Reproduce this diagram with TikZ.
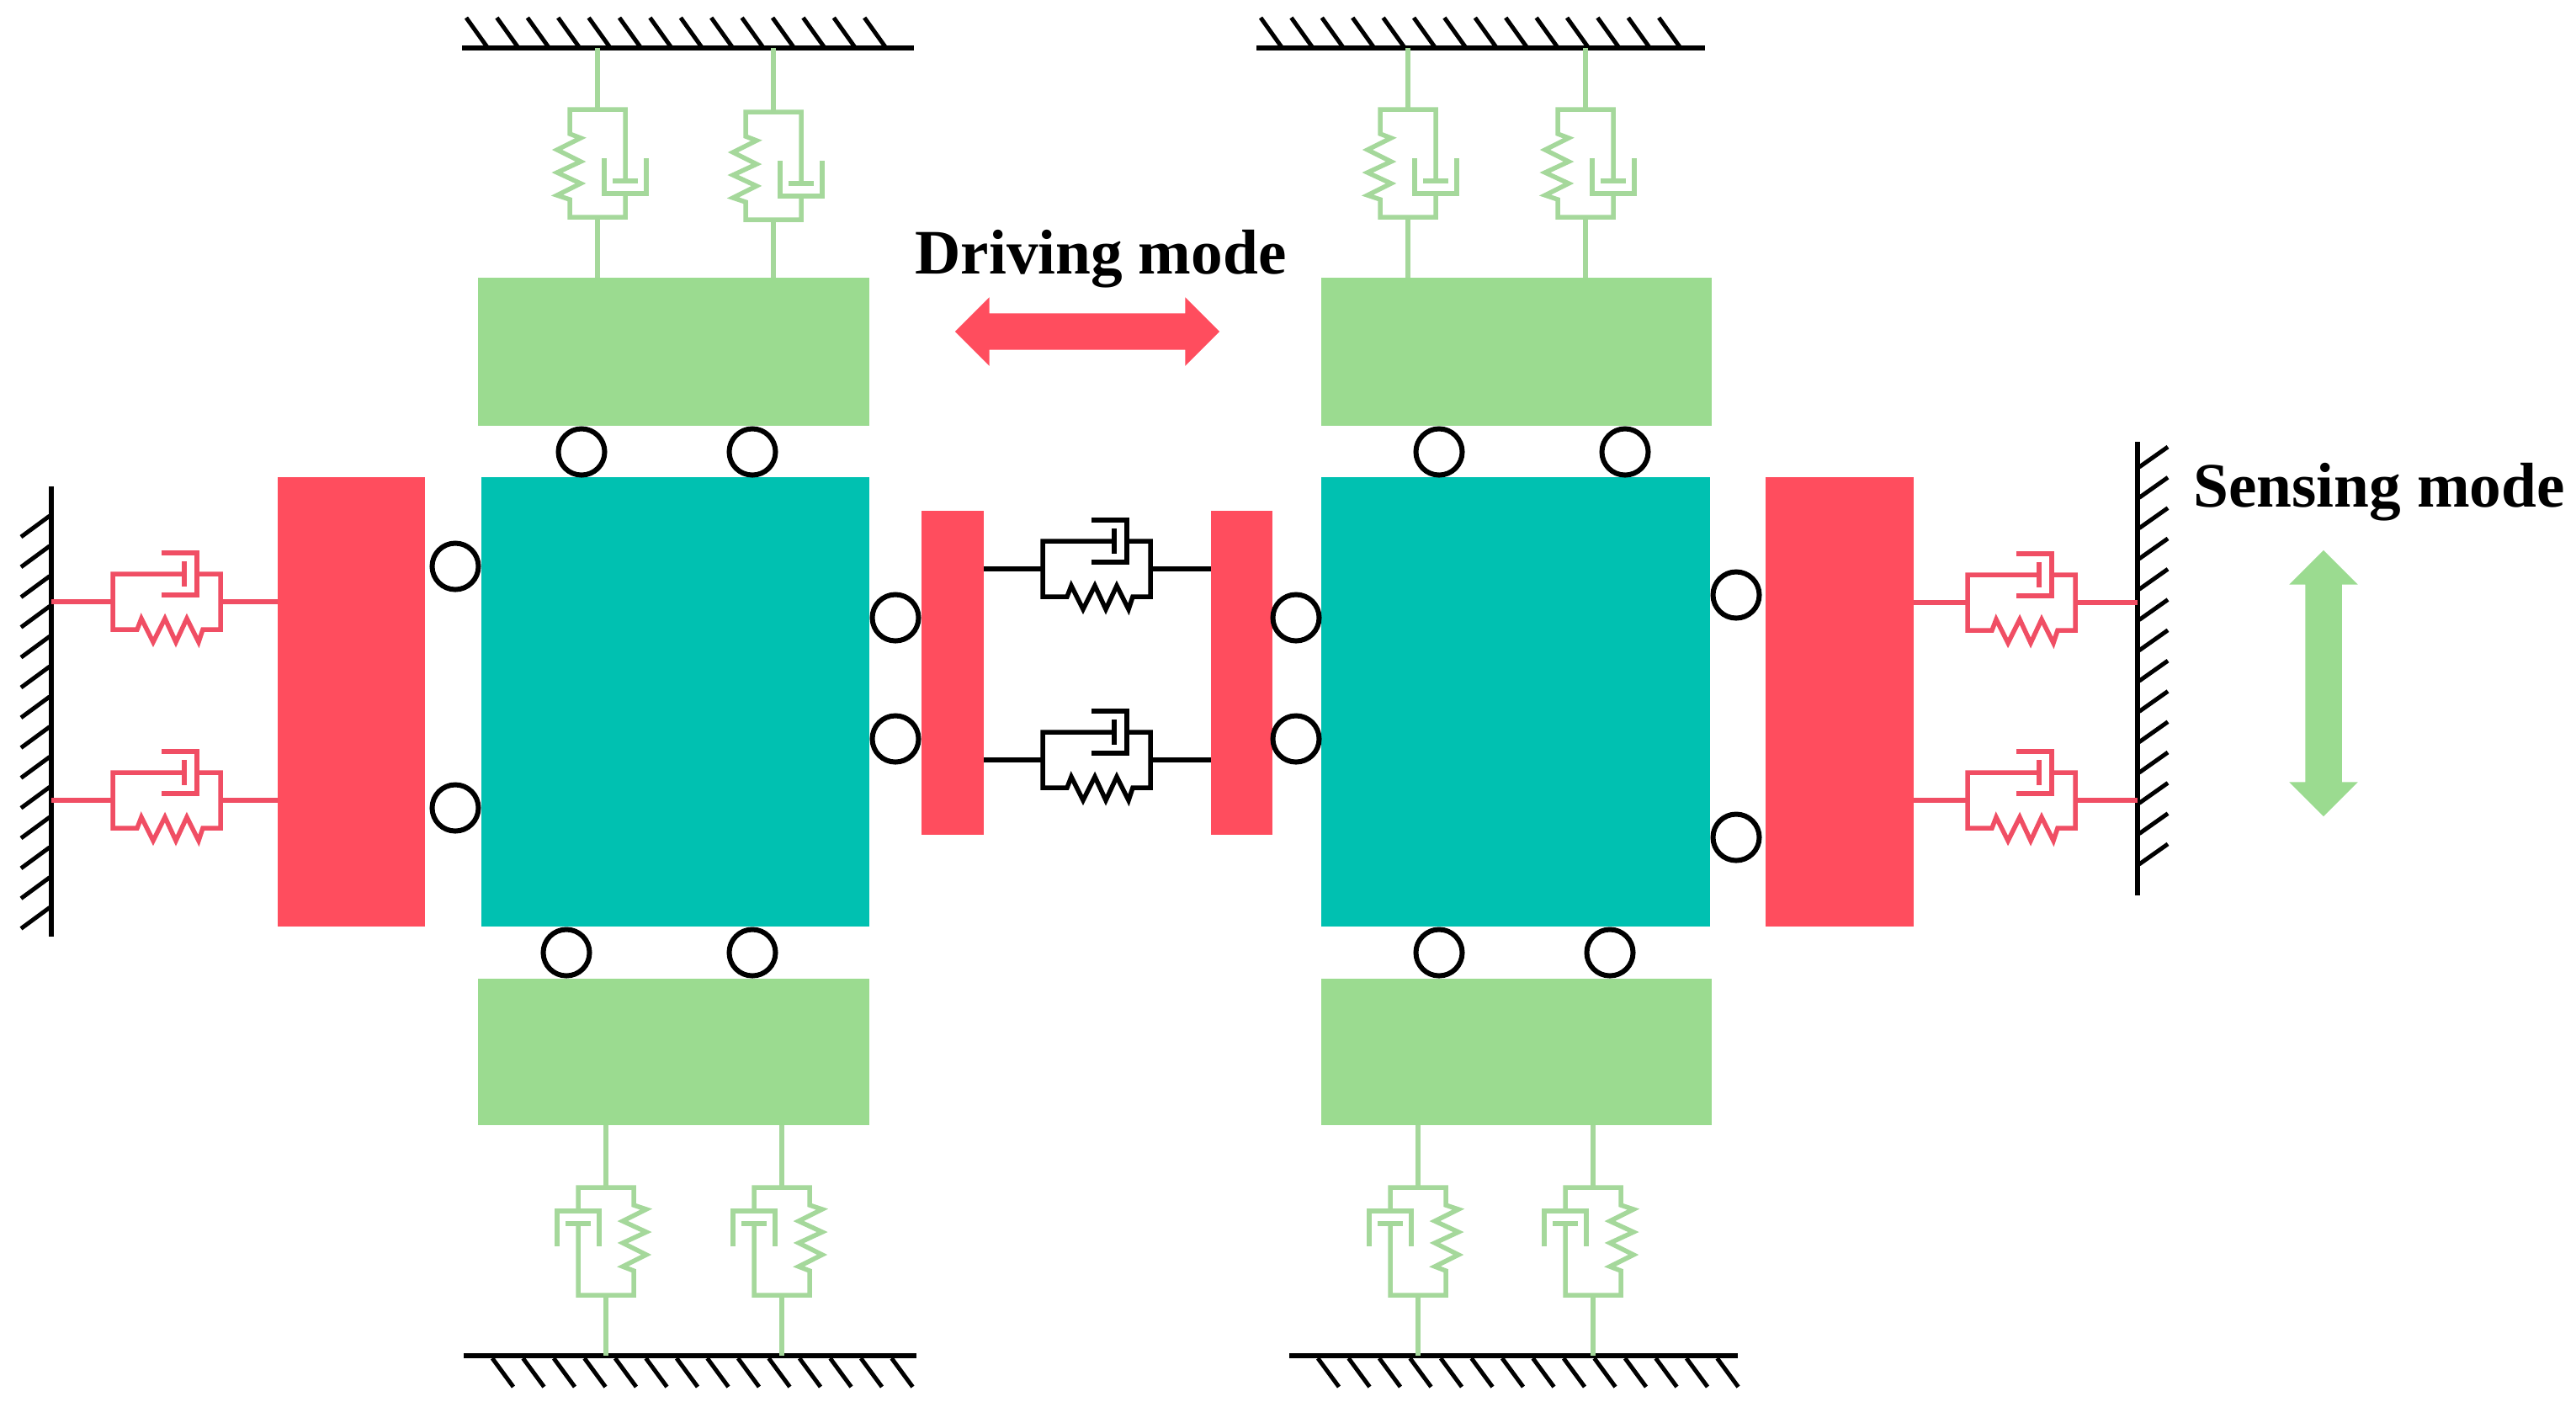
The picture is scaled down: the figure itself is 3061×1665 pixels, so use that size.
\documentclass[tikz,border=0pt]{standalone}
\usepackage{fontspec}
\setmainfont{Liberation Serif}
\usetikzlibrary{shapes.arrows}
\definecolor{blockred}{RGB}{255,77,94}
\definecolor{blockteal}{RGB}{0,193,177}
\definecolor{blockgreen}{RGB}{155,219,144}
\definecolor{wiregreen}{RGB}{165,216,155}
\definecolor{wirered}{RGB}{240,78,100}

\begin{document}
\begin{tikzpicture}[
		x=0.01cm, y=-0.01cm,
		blockbox/.style={rectangle, inner sep=0pt, outer sep=0pt},
		roller/.style={circle, draw=black, fill=white, line width=0.06cm, minimum size=0.55cm, inner sep=0pt},
		modelbl/.style={font=\bfseries\fontsize{21.4}{24}\selectfont},
		wallline/.style={line width=0.06cm, black},
		hatch/.style={line width=0.05cm, black},
		wire/.style={line width=0.055cm},
		modearrow/.style={shape=double arrow, inner xsep=0pt, inner ysep=0.21cm, outer sep=0pt, minimum width=0.8cm, double arrow head extend=0.19cm, double arrow tip angle=90},
		kelvin/.pic={
			\coordinate (-in) at (0,0);
			\coordinate (-out) at (128,0);
			\draw[wire] (85,-33) -- (0,-33) -- (0,33) -- (29,33) -- (34,20) -- (48,48) -- (62,20) -- (75,48) -- (88,20) -- (102,48) -- (107,33) -- (128,33) -- (128,-33) -- (100,-33);
			\draw[wire] (85,-48) -- (85,-18);
			\draw[wire] (58,-58) -- (100,-58) -- (100,-8) -- (58,-8);
		}
		]
		\useasboundingbox (0,0) rectangle (3061,1665);
		
		% 1. Ground walls
		\draw[wallline] (549,57) -- (1086,57) coordinate (wallTL);
		\draw[wallline] (1493,57) -- (2026,57) coordinate (wallTR);
		\draw[wallline] (551,1611) -- (1089,1611) coordinate (wallBL);
		\draw[wallline] (1532,1611) -- (2065,1611) coordinate (wallBR);
		\draw[wallline] (61,578) -- (61,1113) coordinate (wallL);
		\draw[wallline] (2540,525) -- (2540,1064) coordinate (wallR);
		\foreach \k in {0,...,13} {
			\draw[hatch] (554+\k*36.4,21) -- ++(25,35);
			\draw[hatch] (1498+\k*36.4,21) -- ++(25,35);
			\draw[hatch] (585+\k*36.5,1614) -- ++(25,34);
			\draw[hatch] (1566+\k*36.5,1614) -- ++(25,34);
			\draw[hatch] (59,613+\k*35.8) -- ++(-34,25);
			\draw[hatch] (2542,555+\k*36.3) -- ++(34,-24);
		}
		
		% 2. Masses
		\node[blockbox, fill=blockgreen, minimum width=4.65cm, minimum height=1.76cm] (greenTL) at (800.5,418) {};
		\node[blockbox, fill=blockgreen, minimum width=4.64cm, minimum height=1.76cm] (greenTR) at (1802,418) {};
		\node[blockbox, fill=blockgreen, minimum width=4.65cm, minimum height=1.74cm] (greenBL) at (800.5,1250) {};
		\node[blockbox, fill=blockgreen, minimum width=4.64cm, minimum height=1.74cm] (greenBR) at (1802,1250) {};
		\node[blockbox, fill=blockteal, minimum width=4.61cm, minimum height=5.34cm] (tealL) at (802.5,834) {};
		\node[blockbox, fill=blockteal, minimum width=4.62cm, minimum height=5.34cm] (tealR) at (1801,834) {};
		\node[blockbox, fill=blockred, minimum width=1.75cm, minimum height=5.34cm] (redL) at (417.5,834) {};
		\node[blockbox, fill=blockred, minimum width=1.76cm, minimum height=5.34cm] (redR) at (2186,834) {};
		\node[blockbox, fill=blockred, minimum width=0.74cm, minimum height=3.85cm] (redML) at (1132,799.5) {};
		\node[blockbox, fill=blockred, minimum width=0.73cm, minimum height=3.85cm] (redMR) at (1475.5,799.5) {};
		
		% 3. Rollers
		\foreach \x/\y [count=\k] in {691/537,894/537,541/673,541/960,673/1132,894/1132,1064/734,1064/878,1540/734,1540/878,1710/537,1931/537,2063/707,2063/995,1710/1132,1913/1132} {
			\node[roller] (roll\k) at (\x,\y) {};
		}
		
		% 4. Spring-damper units, top and bottom
		\begin{scope}[color=wiregreen]
			\pic[rotate=-90] (kTa) at (710,130) {kelvin};
			\pic[rotate=-90] (kTb) at (919,133) {kelvin};
			\pic[rotate=-90] (kTc) at (1673,130) {kelvin};
			\pic[rotate=-90] (kTd) at (1884,130) {kelvin};
			\pic[rotate=90] (kBa) at (720,1539) {kelvin};
			\pic[rotate=90] (kBb) at (929,1539) {kelvin};
			\pic[rotate=90] (kBc) at (1685,1539) {kelvin};
			\pic[rotate=90] (kBd) at (1893,1539) {kelvin};
			\foreach \n/\w/\b in {kTa/wallTL/greenTL,kTb/wallTL/greenTL,kTc/wallTR/greenTR,kTd/wallTR/greenTR} {
				\draw[wire] (\n-in) -- (\n-in |- \w);
				\draw[wire] (\n-out) -- (\n-out |- \b.north);
			}
			\foreach \n/\w/\b in {kBa/wallBL/greenBL,kBb/wallBL/greenBL,kBc/wallBR/greenBR,kBd/wallBR/greenBR} {
				\draw[wire] (\n-in) -- (\n-in |- \w);
				\draw[wire] (\n-out) -- (\n-out |- \b.south);
			}
		\end{scope}
		
		% 5. Spring-damper units, sides
		\begin{scope}[color=wirered]
			\pic (kLa) at (134,715) {kelvin};
			\pic (kLb) at (134,951) {kelvin};
			\pic (kRa) at (2338,716) {kelvin};
			\pic (kRb) at (2338,951) {kelvin};
			\foreach \n in {kLa,kLb} {
				\draw[wire] (\n-in) -- (\n-in -| wallL);
				\draw[wire] (\n-out) -- (\n-out -| redL.west);
			}
			\foreach \n in {kRa,kRb} {
				\draw[wire] (\n-in) -- (\n-in -| redR.east);
				\draw[wire] (\n-out) -- (\n-out -| wallR);
			}
		\end{scope}
		
		% 6. Coupling units
		\pic (kMa) at (1239,676) {kelvin};
		\pic (kMb) at (1239,903) {kelvin};
		\foreach \n in {kMa,kMb} {
			\draw[wire] (\n-in) -- (\n-in -| redML.east);
			\draw[wire] (\n-out) -- (\n-out -| redMR.west);
		}
		
		% 7. Mode labels
		\node[modelbl] (driving) at (1308,308) {Driving mode};
		\node[modelbl] (sensing) at (2827,585) {Sensing mode};
		\node[modearrow, fill=blockred, minimum height=3.14cm] (drivearrow) at (1292,394) {};
		\node[modearrow, fill=blockgreen, minimum height=3.16cm, rotate=90] (sensearrow) at (2761,812) {};
	\end{tikzpicture}
\end{document}
